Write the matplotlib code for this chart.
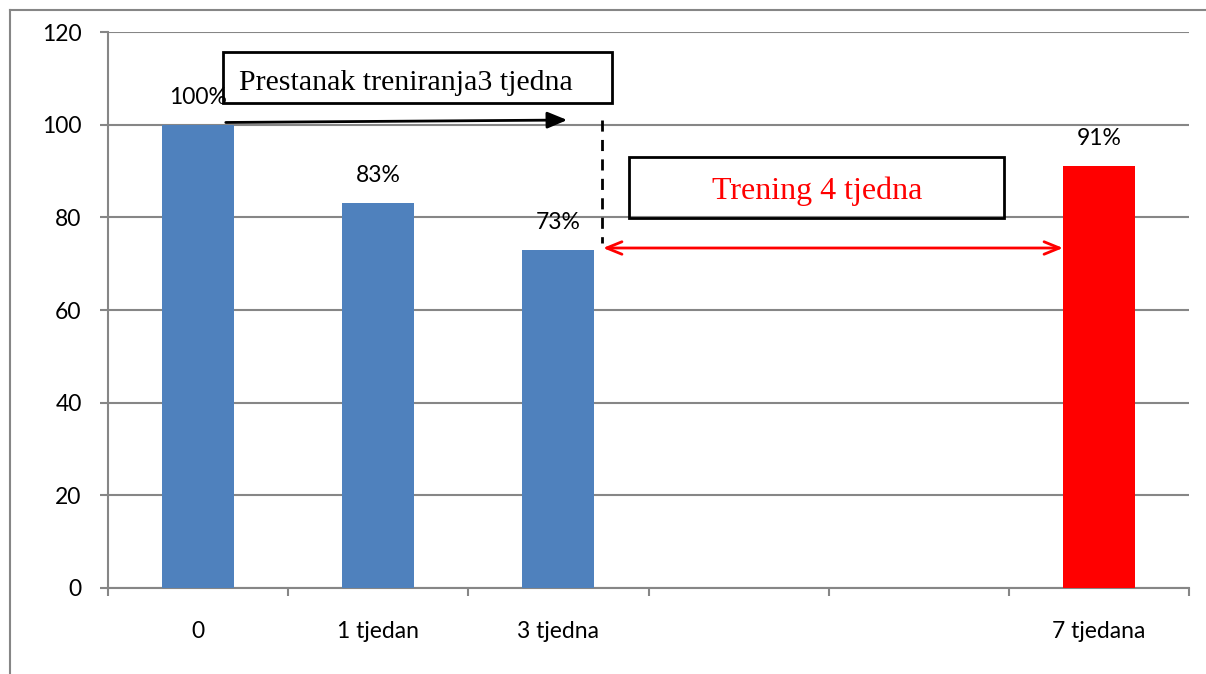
import matplotlib.pyplot as plt
from matplotlib.patches import Rectangle
from matplotlib.lines import Line2D

# ========== DATA ==========
categories = ["0", "1 tjedan", "3 tjedna", "", "", "7 tjedana"]
values = [100, 83, 73, None, None, 91]
labels = ["100%", "83%", "73%", "", "", "91%"]
colors = ["#4F81BD", "#4F81BD", "#4F81BD", "#4F81BD", "#4F81BD", "#FF0000"]
yticks = [0, 20, 40, 60, 80, 100, 120]

W, H = 1206, 674
grey = "#868686"
fs = 16.5

fig = plt.figure(figsize=(W / 100, H / 100), dpi=100)

# outer chart frame (right and bottom edges fall outside the picture)
fig.add_artist(Line2D([10 / W, 10 / W], [0, 1 - 10 / H], color=grey, lw=1.5, transform=fig.transFigure))
fig.add_artist(Line2D([10 / W, 1], [1 - 10 / H, 1 - 10 / H], color=grey, lw=1.5, transform=fig.transFigure))

ax = fig.add_axes([108 / W, (H - 588) / H, (1189 - 108) / W, (588 - 32) / H])

xs = [i for i, v in enumerate(values) if v is not None]
ax.bar(xs, [values[i] for i in xs], width=0.4, color=[colors[i] for i in xs], zorder=3)

for i in xs:
    ax.annotate(labels[i], (i, values[i]), xytext=(0, 17), textcoords="offset pixels",
                ha="center", va="bottom", fontsize=fs, family="Lato", color="black")

ax.set_xlim(-0.5, len(categories) - 0.5)
ax.set_ylim(0, 120)
ax.set_yticks(yticks)
ax.yaxis.grid(True, color=grey, lw=1.5, zorder=0)
ax.set_axisbelow(True)

# category boundaries as major ticks, names on minor ticks
ax.set_xticks([i - 0.5 for i in range(len(categories) + 1)])
ax.set_xticklabels([])
ax.set_xticks(range(len(categories)), minor=True)
ax.set_xticklabels(categories, minor=True, fontsize=fs, family="Lato")
ax.tick_params(axis="x", which="major", length=6, width=1.5, color=grey)
ax.tick_params(axis="x", which="minor", length=0, pad=24)
ax.tick_params(axis="y", length=6, width=1.5, color=grey, pad=13, labelsize=fs)
for t in ax.get_yticklabels():
    t.set_family("Lato")

for s in ["top", "right"]:
    ax.spines[s].set_visible(False)
for s in ["left", "bottom"]:
    ax.spines[s].set_color(grey)
    ax.spines[s].set_linewidth(1.5)

# ========== ANNOTATIONS ==========
def px(x, y):
    return (x / W, 1 - y / H)

# text boxes
fig.add_artist(Rectangle(px(223, 103), (612 - 223) / W, (103 - 52) / H, transform=fig.transFigure,
                         fill=False, ec="black", lw=2))
fig.text(*px(239, 90), "Prestanak treniranja3 tjedna", family="Liberation Serif", fontsize=21.5,
         ha="left", va="baseline")
fig.add_artist(Rectangle(px(629, 218), (1004 - 629) / W, (218 - 157) / H, transform=fig.transFigure,
                         fill=False, ec="black", lw=2))
fig.text(*px(817, 199), "Trening 4 tjedna", family="Liberation Serif", fontsize=23,
         ha="center", va="baseline", color="red")

# black arrow (stop of training)
ax.annotate("", xy=px(570, 120), xycoords="figure fraction", xytext=px(223, 122.5),
            textcoords="figure fraction",
            arrowprops=dict(arrowstyle="-|>,head_length=1.2,head_width=0.5", color="black", lw=2))

# dashed vertical
fig.add_artist(Line2D([602 / W, 602 / W], [1 - 120 / H, 1 - 243 / H], color="black", lw=2,
                      ls=(0, (4, 3)), transform=fig.transFigure))

# red double arrow
ax.annotate("", xy=px(1063, 248), xycoords="figure fraction", xytext=px(603, 248),
            textcoords="figure fraction",
            arrowprops=dict(arrowstyle="<->,head_length=1.1,head_width=0.45", color="red", lw=2,
                            shrinkA=0, shrinkB=0))

fig.savefig("out.png", dpi=100)
